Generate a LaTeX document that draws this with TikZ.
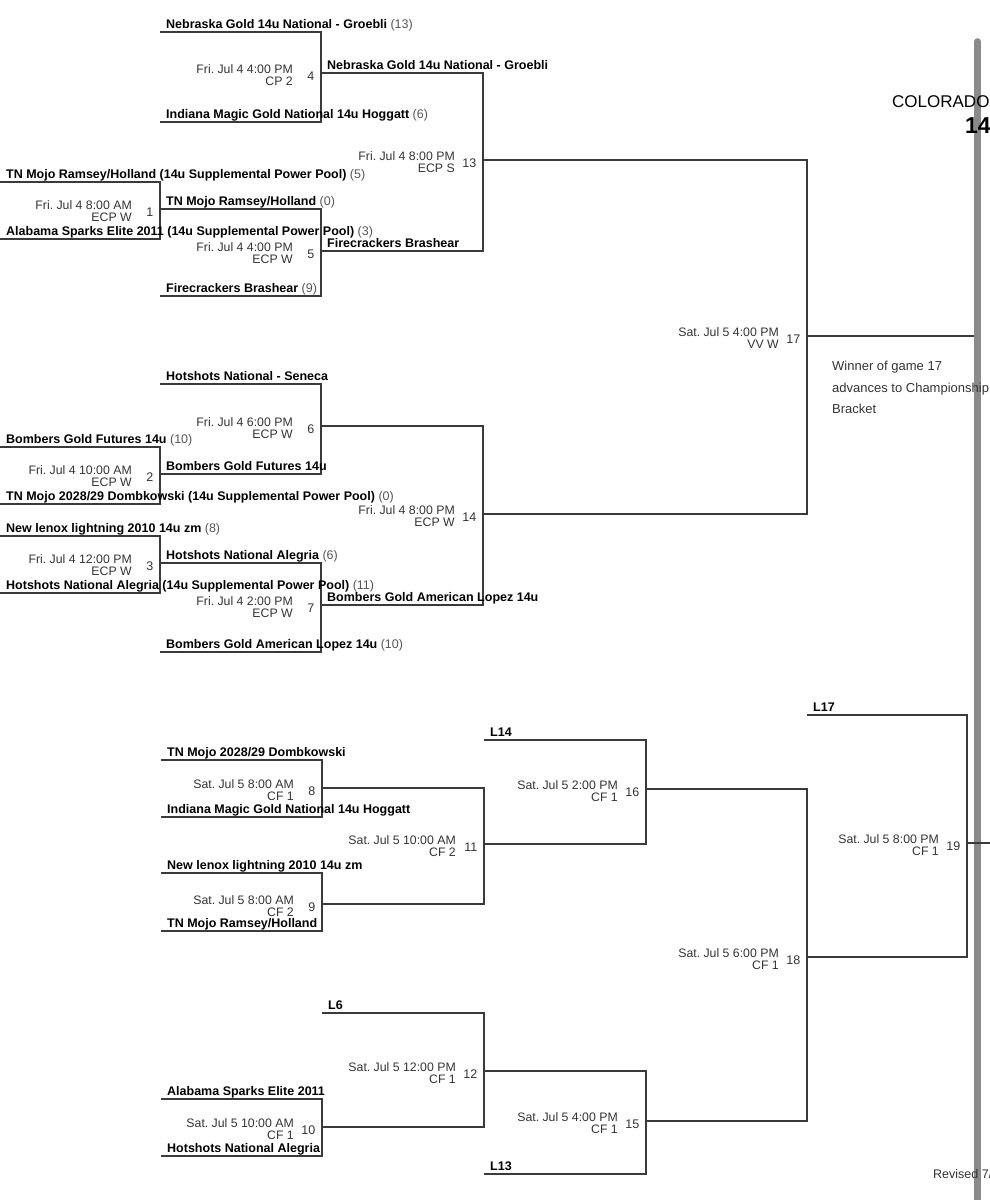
\documentclass[tikz,border=0pt]{standalone}
\usepackage{fontspec}
\setmainfont{Liberation Sans}
\frenchspacing
\definecolor{lncol}{HTML}{3A3A3A}
\definecolor{txtgray}{HTML}{333333}
\definecolor{scoregray}{HTML}{555555}
\definecolor{barcol}{HTML}{8A8A8A}
\newcommand\mybrk[6]{%
  \coordinate (#1-tl) at (#2,#3);
  \coordinate (#1-tr) at (#4,#3);
  \coordinate (#1-br) at (#4,#5);
  \coordinate (#1-bl) at (#6,#5);
  \draw[conn] (#1-tl) -- (#1-tr) -- (#1-br) -- (#1-bl);}
\newcommand\mygame[6]{%
  \node[gdate] (#1-d) at ({#2-28},{#3+0.5}) {#4};
  \node[gdate] (#1-p) at ({#2-28},{#3+12.5}) {#5};
  \node[gnum] (#1-n) at ({#2-6.5},{#3+7}) {#6};}
\newcommand\myteam[5]{%
  \node[team] (#1) at ({#2+6},{#3-4}) {#4\textmd{\color{scoregray}\ #5}};}
\begin{document}
\begin{tikzpicture}[x=1pt,y=-1pt,
  conn/.style={draw=lncol, line width=1.3pt, line join=miter},
  team/.style={anchor=base west, inner sep=0pt, font=\fontsize{12.5}{14}\selectfont\bfseries, text=black},
  gdate/.style={anchor=base east, inner sep=0pt, font=\fontsize{12.3}{14}\selectfont, text=txtgray},
  gnum/.style={anchor=base east, inner sep=0pt, font=\fontsize{12.5}{14}\selectfont, text=txtgray},
  note/.style={anchor=base west, inner sep=0pt, font=\fontsize{13}{15}\selectfont, text=txtgray}]
\useasboundingbox (0,0) rectangle (989,1200);

% gray bar
\coordinate (bartop) at (977.5,41.5);
\coordinate (barbot) at (977.5,1210);
\draw[barcol, line width=6.7pt, line cap=round] (bartop) -- (barbot);

% ---------- upper bracket ----------
\mybrk{g1}{0}{182}{160}{239}{0}
\mybrk{g2}{0}{447}{160}{504}{0}
\mybrk{g3}{0}{536}{160}{593}{0}
\mybrk{g4}{160}{32}{321}{122}{160}
\mybrk{g5}{160}{209}{321}{296}{160}
\mybrk{g6}{160}{384}{321}{474}{160}
\mybrk{g7}{160}{563}{321}{652}{160}
\mybrk{g13}{321}{73}{483}{251}{321}
\mybrk{g14}{321}{426}{483}{605}{321}
\mybrk{g17}{483}{160}{807}{514}{483}
\coordinate (o17a) at (807,336);
\coordinate (o17b) at (974,336);
\draw[conn] (o17a) -- (o17b);

% ---------- lower bracket ----------
\mybrk{g8}{161}{760}{322}{817}{161}
\mybrk{g9}{161}{873}{322}{931}{161}
\mybrk{g10}{161}{1099}{322}{1156}{161}
\mybrk{g11}{322}{788}{484}{904}{322}
\mybrk{g12}{322}{1013}{484}{1127}{322}
\mybrk{g16}{484}{740}{646}{844}{484}
\mybrk{g15}{484}{1071}{646}{1174}{484}
\mybrk{g18}{646}{789}{807}{1121}{646}
\mybrk{g19}{807}{715}{967}{957}{807}
\coordinate (o19a) at (967,843);
\coordinate (o19b) at (995,843);
\draw[conn] (o19a) -- (o19b);

% ---------- team labels ----------
\myteam{t1}{160}{32}{Nebraska Gold 14u National - Groebli}{(13)}
\myteam{t2}{160}{122}{Indiana Magic Gold National 14u Hoggatt}{(6)}
\myteam{t3}{321}{73}{Nebraska Gold 14u National - Groebli}{}
\myteam{t4}{0}{182}{TN Mojo Ramsey/Holland (14u Supplemental Power Pool)}{(5)}
\myteam{t5}{0}{239}{Alabama Sparks Elite 2011 (14u Supplemental Power Pool)}{(3)}
\myteam{t6}{160}{209}{TN Mojo Ramsey/Holland}{(0)}
\myteam{t7}{160}{296}{Firecrackers Brashear}{(9)}
\myteam{t8}{321}{251}{Firecrackers Brashear}{}
\myteam{t9}{160}{384}{Hotshots National - Seneca}{}
\myteam{t10}{160}{474}{Bombers Gold Futures 14u}{}
\myteam{t11}{0}{447}{Bombers Gold Futures 14u}{(10)}
\myteam{t12}{0}{504}{TN Mojo 2028/29 Dombkowski (14u Supplemental Power Pool)}{(0)}
\myteam{t13}{0}{536}{New lenox lightning 2010 14u zm}{(8)}
\myteam{t14}{0}{593}{Hotshots National Alegria (14u Supplemental Power Pool)}{(11)}
\myteam{t15}{160}{563}{Hotshots National Alegria}{(6)}
\myteam{t16}{160}{652}{Bombers Gold American Lopez 14u}{(10)}
\myteam{t17}{321}{605}{Bombers Gold American Lopez 14u}{}

\myteam{t18}{484}{740}{L14}{}
\myteam{t19}{161}{760}{TN Mojo 2028/29 Dombkowski}{}
\myteam{t20}{161}{817}{Indiana Magic Gold National 14u Hoggatt}{}
\myteam{t21}{161}{873}{New lenox lightning 2010 14u zm}{}
\myteam{t22}{161}{931}{TN Mojo Ramsey/Holland}{}
\myteam{t23}{807}{715}{L17}{}
\myteam{t24}{322}{1013}{L6}{}
\myteam{t25}{161}{1099}{Alabama Sparks Elite 2011}{}
\myteam{t26}{161}{1156}{Hotshots National Alegria}{}
\myteam{t27}{484}{1174}{L13}{}

% ---------- game labels ----------
\mygame{m1}{160}{209}{Fri. Jul 4 8:00 AM}{ECP W}{1}
\mygame{m2}{160}{474}{Fri. Jul 4 10:00 AM}{ECP W}{2}
\mygame{m3}{160}{563}{Fri. Jul 4 12:00 PM}{ECP W}{3}
\mygame{m4}{321}{73}{Fri. Jul 4 4:00 PM}{CP 2}{4}
\mygame{m5}{321}{251}{Fri. Jul 4 4:00 PM}{ECP W}{5}
\mygame{m6}{321}{426}{Fri. Jul 4 6:00 PM}{ECP W}{6}
\mygame{m7}{321}{605}{Fri. Jul 4 2:00 PM}{ECP W}{7}
\mygame{m13}{483}{160}{Fri. Jul 4 8:00 PM}{ECP S}{13}
\mygame{m14}{483}{514}{Fri. Jul 4 8:00 PM}{ECP W}{14}
\mygame{m17}{807}{336}{Sat. Jul 5 4:00 PM}{VV W}{17}
\mygame{m8}{322}{788}{Sat. Jul 5 8:00 AM}{CF 1}{8}
\mygame{m9}{322}{904}{Sat. Jul 5 8:00 AM}{CF 2}{9}
\mygame{m10}{322}{1127}{Sat. Jul 5 10:00 AM}{CF 1}{10}
\mygame{m11}{484}{844}{Sat. Jul 5 10:00 AM}{CF 2}{11}
\mygame{m12}{484}{1071}{Sat. Jul 5 12:00 PM}{CF 1}{12}
\mygame{m16}{646}{789}{Sat. Jul 5 2:00 PM}{CF 1}{16}
\mygame{m15}{646}{1121}{Sat. Jul 5 4:00 PM}{CF 1}{15}
\mygame{m18}{807}{957}{Sat. Jul 5 6:00 PM}{CF 1}{18}
\mygame{m19}{967}{843}{Sat. Jul 5 8:00 PM}{CF 1}{19}

% ---------- notes and title ----------
\node[note] (w1) at (832,370) {Winner of game 17};
\node[note] (w2) at (832,392) {advances to Championship};
\node[note] (w3) at (832,413) {Bracket};
\node[anchor=base west, inner sep=0pt, font=\fontsize{17}{19}\selectfont, text=black] (title1) at (892,107) {COLORADO};
\node[anchor=base west, inner sep=0pt, font=\fontsize{23}{25}\selectfont\bfseries, text=black] (title2) at (965,133) {14};
\node[anchor=base west, inner sep=0pt, font=\fontsize{12.5}{14}\selectfont, text=txtgray] (rev) at (933,1178) {Revised 7/};
\end{tikzpicture}
\end{document}
